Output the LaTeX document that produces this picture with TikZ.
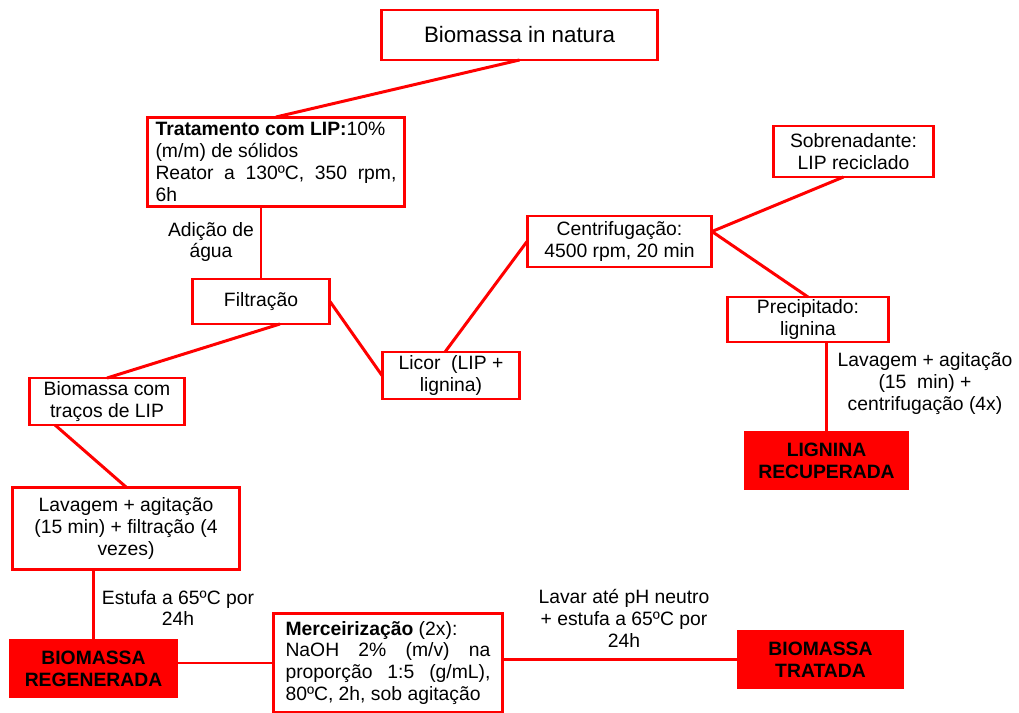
\documentclass[tikz,border=0pt]{standalone}
\usepackage{fontspec}
\setmainfont{Liberation Sans}
\begin{document}
\begin{tikzpicture}[x=0.02cm,y=-0.02cm,inner sep=0pt,outer sep=0pt,line width=1.7pt,red,
txt/.style={text=black,font=\fontsize{11}{12.5}\selectfont,align=center},
stepbox/.style={txt,draw=red,fill=white,rectangle,line width=1.7pt},
endbox/.style={stepbox,fill=red,font=\fontsize{11}{12.5}\selectfont\bfseries}]
\useasboundingbox (0,0) rectangle (1019,713);
\draw (519.5,35) node[stepbox,minimum width=5.54cm,minimum height=1cm,font=\fontsize{12.7}{14}\selectfont] (natura) {Biomassa in natura};
\draw (276,162) node[stepbox,minimum width=5.16cm,minimum height=1.8cm,text width=4.82cm,align=justify] (trat) {\textbf{Tratamento com LIP:}10\%\\(m/m) de sólidos\\Reator a 130ºC, 350 rpm,\linebreak 6h};
\draw (261,301.5) node[stepbox,minimum width=2.76cm,minimum height=0.9cm] (filt) {Filtração};
\draw (107,401.5) node[stepbox,minimum width=3.12cm,minimum height=0.94cm] (bcom) {Biomassa com\\traços de LIP};
\draw (126,528.5) node[stepbox,minimum width=4.56cm,minimum height=1.66cm] (lav) {Lavagem + agitação\\(15 min) + filtração (4\\vezes)};
\draw (93.5,668.5) node[endbox,minimum width=3.34cm,minimum height=1.14cm] (breg) {BIOMASSA\\REGENERADA};
\draw (388,663) node[stepbox,minimum width=4.6cm,minimum height=1.98cm,text width=4.1cm,align=justify] (merc) {\textbf{Merceirização} (2x):\\NaOH 2\% (m/v) na\linebreak proporção 1:5 (g/mL),\linebreak 80ºC, 2h, sob agitação};
\draw (820.5,659.5) node[endbox,minimum width=3.3cm,minimum height=1.14cm] (btrat) {BIOMASSA\\TRATADA};
\draw (451,375.5) node[stepbox,minimum width=2.76cm,minimum height=0.94cm] (licor) {Licor~~(LIP +\\lignina)};
\draw (619.5,241.5) node[stepbox,minimum width=3.7cm,minimum height=1.02cm] (centr) {Centrifugação:\\4500 rpm, 20 min};
\draw (853.5,151.5) node[stepbox,minimum width=3.22cm,minimum height=1.02cm] (sobr) {Sobrenadante:\\LIP reciclado};
\draw (808,319.5) node[stepbox,minimum width=3.24cm,minimum height=0.9cm] (prec) {Precipitado:\\lignina};
\draw (826.5,460.5) node[endbox,minimum width=3.26cm,minimum height=1.14cm] (lign) {LIGNINA\\RECUPERADA};
% labels on the lines
\draw (211,242) node[txt] (lblagua) {Adição de\\água};
\draw (178,608) node[txt] (lblestufa) {Estufa a 65ºC por\\24h};
\draw (624,618) node[txt] (lbllavar) {Lavar até pH neutro\\+ estufa a 65ºC por\\24h};
\draw (925,384) node[txt] (lblcentr) {Lavagem + agitação\\(15~~min) +\\centrifugação (4x)};
% connectors
\draw (natura.south) -- (trat.north);
\draw (filt.north) -- (filt.north |- trat.south);
\draw ([xshift=0.38cm]filt.south) -- (bcom.north);
\draw (filt.east) -- (licor.west);
\draw ([xshift=-0.12cm]licor.north) -- (centr.west);
\draw ([yshift=0.2cm]centr.east) -- ([xshift=-0.2cm]sobr.south);
\draw ([yshift=0.2cm]centr.east) -- (prec.north);
\draw (lign.north) -- (lign.north |- prec.south);
\draw ([xshift=0.52cm]bcom.south west) -- (lav.north);
\draw (breg.north) -- (breg.north |- lav.south);
\draw (merc.west) -- (merc.west -| breg.east);
\draw (btrat.west) -- (btrat.west -| merc.east);
\end{tikzpicture}
\end{document}
